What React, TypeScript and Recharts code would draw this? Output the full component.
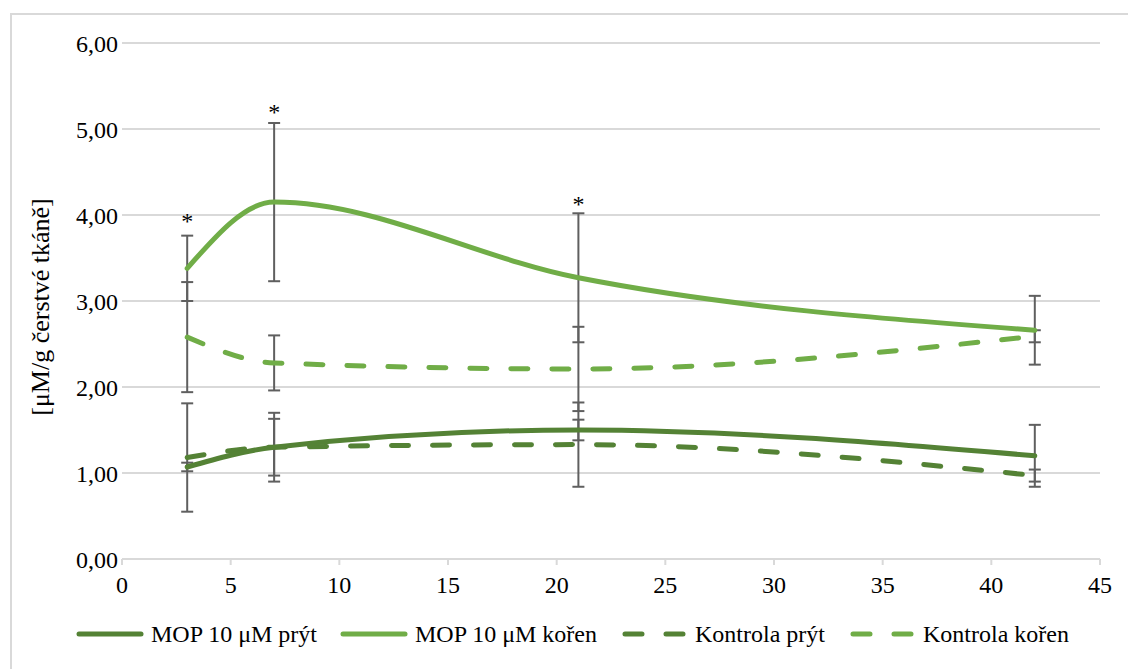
import {
  CartesianGrid,
  ComposedChart,
  ErrorBar,
  Legend,
  Line,
  Scatter,
  XAxis,
  YAxis
} from "recharts";

const days = [3, 7, 21, 42];

const mopShoot = [1.07, 1.3, 1.5, 1.2];
const mopShootErr = [0.05, 0.4, 0.12, 0.36];
const mopRoot = [3.38, 4.15, 3.27, 2.66];
const mopRootErr = [0.38, 0.92, 0.75, 0.4];
const ctrlShoot = [1.18, 1.3, 1.33, 0.97];
const ctrlShootErr = [0.63, 0.33, 0.49, 0.07];
const ctrlRoot = [2.58, 2.28, 2.21, 2.59];
const ctrlRootErr = [0.64, 0.32, 0.49, 0.07];

// significance marks (*) above the root series
const starDays = [3, 7, 21];
const starLevels = [3.98, 5.24, 4.17];

const xTicks = [0, 5, 10, 15, 20, 25, 30, 35, 40, 45];
const yTicks = [0, 1, 2, 3, 4, 5, 6];

const seriesNames = ["MOP 10 μM prýt", "MOP 10 μM kořen", "Kontrola prýt", "Kontrola kořen"];
const yTitle = "[μM/g čerstvé tkáně]";

const DARK = "#548235";
const LIGHT = "#70AD47";
const ERR = "#5f5f5f";
const FONT = "Liberation Serif, DejaVu Serif, serif";
const FS = 24;
const DASH = "17 24";

const data = days.map((day, i) => ({
  day,
  mopShoot: mopShoot[i],
  mopShootErr: mopShootErr[i],
  mopRoot: mopRoot[i],
  mopRootErr: mopRootErr[i],
  ctrlShoot: ctrlShoot[i],
  ctrlShootErr: ctrlShootErr[i],
  ctrlRoot: ctrlRoot[i],
  ctrlRootErr: ctrlRootErr[i]
}));

const stars = starDays.map((day, i) => ({ day, level: starLevels[i] }));

const legendItems = [
  { name: seriesNames[0], color: DARK, dashed: false },
  { name: seriesNames[1], color: LIGHT, dashed: false },
  { name: seriesNames[2], color: DARK, dashed: true },
  { name: seriesNames[3], color: LIGHT, dashed: true }
];

function ChartLegend() {
  return (
    <div
      style={{
        display: "flex",
        justifyContent: "center",
        alignItems: "center",
        height: 70,
        fontFamily: FONT,
        fontSize: FS,
        color: "#000",
        paddingLeft: 66
      }}
    >
      {legendItems.map((item) => (
        <div key={item.name} style={{ display: "flex", alignItems: "center", marginRight: 22 }}>
          <svg width={70} height={12} style={{ marginRight: 6 }}>
            <line
              x1={4}
              y1={6}
              x2={66}
              y2={6}
              stroke={item.color}
              strokeWidth={5}
              strokeLinecap="round"
              strokeDasharray={item.dashed ? "17 24" : undefined}
              strokeDashoffset={item.dashed ? -2 : undefined}
            />
          </svg>
          <span>{item.name}</span>
        </div>
      ))}
    </div>
  );
}

function YTitle({ viewBox }: any) {
  const cx = 40;
  const cy = viewBox.y + viewBox.height / 2 + 6;
  return (
    <text
      x={cx}
      y={cy}
      transform={`rotate(-90 ${cx} ${cy})`}
      textAnchor="middle"
      dominantBaseline="central"
      fontSize={26}
      fontFamily={FONT}
      fill="#000"
    >
      {yTitle}
    </text>
  );
}

const fmt = (v: number) => v.toFixed(2).replace(".", ",");

export default function App() {
  return (
    <div
      style={{
        position: "absolute",
        left: 0,
        top: 0,
        width: 1128,
        height: 669,
        background: "#fff",
        fontFamily: FONT
      }}
    >
      <div
        style={{
          position: "absolute",
          left: 10,
          top: 13,
          width: 1118,
          height: 656,
          borderTop: "2px solid #d9d9d9",
          borderLeft: "2px solid #d9d9d9",
          boxSizing: "border-box"
        }}
      />
      <div style={{ position: "absolute", left: 0, top: 0 }}>
        <ComposedChart
          width={1128}
          height={669}
          data={data}
          margin={{ top: 43, right: 28, left: 0, bottom: 0 }}
          style={{ fontFamily: FONT }}
        >
          <CartesianGrid vertical={false} stroke="#d9d9d9" strokeWidth={2} />
          <XAxis
            type="number"
            dataKey="day"
            domain={[0, 45]}
            ticks={xTicks}
            height={40}
            axisLine={{ stroke: "#d9d9d9", strokeWidth: 2 }}
            tickLine={{ stroke: "#d9d9d9", strokeWidth: 2 }}
            tickSize={6}
            tickMargin={11}
            tick={{ fill: "#000", fontSize: FS, fontFamily: FONT }}
          />
          <YAxis
            type="number"
            domain={[0, 6]}
            ticks={yTicks}
            width={122}
            axisLine={false}
            tickLine={false}
            tickSize={0}
            tickMargin={4}
            tickFormatter={fmt}
            tick={{ fill: "#000", fontSize: FS, fontFamily: FONT }}
            label={{ content: YTitle }}
          />
          <Legend verticalAlign="bottom" height={70} content={() => <ChartLegend />} />
          <Line
            name={seriesNames[3]}
            type="monotone"
            dataKey="ctrlRoot"
            stroke={LIGHT}
            strokeWidth={5}
            strokeDasharray={DASH}
            strokeLinecap="round"
            dot={false}
            activeDot={false}
            isAnimationActive={false}
          >
            <ErrorBar dataKey="ctrlRootErr" width={6} stroke={ERR} strokeWidth={2} direction="y" />
          </Line>
          <Line
            name={seriesNames[2]}
            type="monotone"
            dataKey="ctrlShoot"
            stroke={DARK}
            strokeWidth={5}
            strokeDasharray={DASH}
            strokeLinecap="round"
            dot={false}
            activeDot={false}
            isAnimationActive={false}
          >
            <ErrorBar dataKey="ctrlShootErr" width={6} stroke={ERR} strokeWidth={2} direction="y" />
          </Line>
          <Line
            name={seriesNames[0]}
            type="monotone"
            dataKey="mopShoot"
            stroke={DARK}
            strokeWidth={5}
            strokeLinecap="round"
            dot={false}
            activeDot={false}
            isAnimationActive={false}
          >
            <ErrorBar dataKey="mopShootErr" width={6} stroke={ERR} strokeWidth={2} direction="y" />
          </Line>
          <Line
            name={seriesNames[1]}
            type="monotone"
            dataKey="mopRoot"
            stroke={LIGHT}
            strokeWidth={5}
            strokeLinecap="round"
            dot={false}
            activeDot={false}
            isAnimationActive={false}
          >
            <ErrorBar dataKey="mopRootErr" width={6} stroke={ERR} strokeWidth={2} direction="y" />
          </Line>
          <Scatter
            data={stars}
            dataKey="level"
            isAnimationActive={false}
            legendType="none"
            shape={(p: any) => (
              <text
                x={p.cx}
                y={p.cy + 12}
                textAnchor="middle"
                fontSize={FS}
                fontFamily={FONT}
                fill="#000"
              >
                *
              </text>
            )}
          />
        </ComposedChart>
      </div>
    </div>
  );
}
